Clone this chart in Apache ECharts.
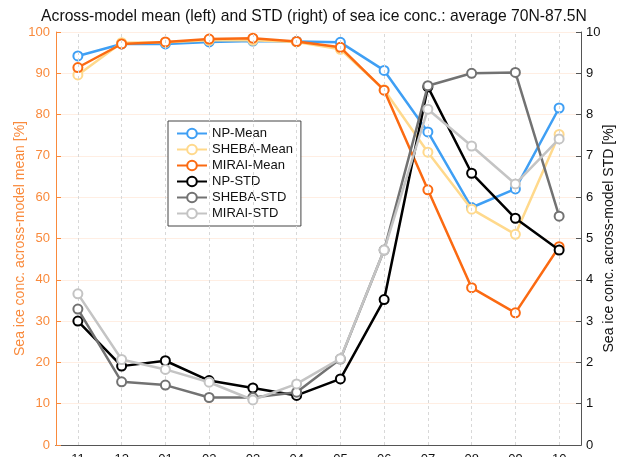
<!DOCTYPE html>
<html><head><meta charset="utf-8">
<script src="https://cdn.jsdelivr.net/npm/echarts@6/dist/echarts.min.js"></script>
<style>html,body{margin:0;padding:0;background:#fff}#c{width:628px;height:457px}</style>
</head><body><div id="c"></div>
<script>
const months = ['11','12','01','02','03','04','05','06','07','08','09','10'];
const npMean    = [94.2, 97.1, 97.1, 97.6, 97.8, 97.7, 97.5, 90.7, 75.8, 57.5, 62.0, 81.6];
const shebaMean = [89.6, 97.4, 97.5, 98.0, 98.0, 97.6, 95.8, 86.0, 70.9, 57.1, 51.0, 75.2];
const miraiMean = [91.4, 97.1, 97.6, 98.3, 98.5, 97.7, 96.3, 85.9, 61.8, 38.1, 32.0, 48.0];
const npStd     = [3.00, 1.91, 2.04, 1.56, 1.38, 1.20, 1.60, 3.52, 8.67, 6.58, 5.49, 4.72];
const shebaStd  = [3.29, 1.53, 1.45, 1.15, 1.15, 1.28, 2.08, 4.72, 8.70, 9.00, 9.02, 5.54];
const miraiStd  = [3.66, 2.07, 1.83, 1.52, 1.09, 1.48, 2.09, 4.72, 8.13, 7.24, 6.32, 7.41];
const leftTicks = {min: 0, max: 100, interval: 10};
const rightTicks = {min: 0, max: 10, interval: 1};

const ORANGE = '#f98a3c';
const FONT = 'Liberation Sans, Arial, sans-serif';
const chart = echarts.init(document.getElementById('c'), null, {renderer: 'canvas'});
function ser(name, data, color, yIdx, z) {
  return {
    name, type: 'line', data, yAxisIndex: yIdx, z,
    symbol: 'emptyCircle', symbolSize: 9,
    lineStyle: {color, width: 2.5},
    itemStyle: {color, borderColor: color, borderWidth: 2.2},
    emphasis: {disabled: true}, animation: false
  };
}
const option = {
  animation: false,
  textStyle: {fontFamily: FONT},
  title: {
    text: 'Across-model mean (left) and STD (right) of sea ice conc.: average 70N-87.5N',
    left: 'center', top: 4,
    textStyle: {fontFamily: FONT, fontSize: 15.7, fontWeight: 'normal', color: '#111'}
  },
  grid: {left: 56, right: 47, top: 32, bottom: 12, containLabel: false, outerBoundsMode: 'none'},
  legend: {
    orient: 'vertical', left: 168, top: 121,
    backgroundColor: '#fff', borderColor: '#444', borderWidth: 1,
    padding: [6, 8, 6, 8], itemGap: 3, itemWidth: 30, itemHeight: 12,
    textStyle: {fontFamily: FONT, fontSize: 13, color: '#111'},
    data: ['NP-Mean','SHEBA-Mean','MIRAI-Mean','NP-STD','SHEBA-STD','MIRAI-STD']
  },
  xAxis: [{
    type: 'category', data: months, boundaryGap: true, position: 'bottom',
    axisLine: {lineStyle: {color: '#555', width: 1}},
    axisTick: {inside: true, alignWithLabel: true, length: 5, lineStyle: {color: '#555'}},
    axisLabel: {color: '#111', fontSize: 13, margin: 8, fontFamily: FONT},
    splitLine: {show: false}
  }, {
    type: 'category', data: months, boundaryGap: true, position: 'top',
    axisLine: {lineStyle: {color: '#555', width: 1}},
    axisTick: {inside: true, alignWithLabel: true, length: 5, lineStyle: {color: '#555'}},
    axisLabel: {show: false}, splitLine: {show: false}
  }],
  yAxis: [{
    type: 'value', position: 'left', ...leftTicks,
    name: 'Sea ice conc. across-model mean [%]', nameLocation: 'middle', nameGap: 29,
    nameMoveOverlap: false,
    nameTextStyle: {color: ORANGE, fontSize: 14, fontFamily: FONT},
    axisLine: {show: true, lineStyle: {color: ORANGE, width: 1}},
    axisTick: {show: true, inside: true, length: 5, lineStyle: {color: ORANGE}},
    axisLabel: {color: ORANGE, fontSize: 13, margin: 6, fontFamily: FONT},
    splitLine: {show: true, lineStyle: {color: 'rgba(255,140,70,0.15)', width: 1}}
  }, {
    type: 'value', position: 'right', ...rightTicks,
    name: 'Sea ice conc. across-model STD [%]', nameLocation: 'middle', nameGap: 21,
    nameMoveOverlap: false,
    nameTextStyle: {color: '#111', fontSize: 14, fontFamily: FONT},
    axisLine: {show: true, lineStyle: {color: '#555', width: 1}},
    axisTick: {show: true, inside: true, length: 5, lineStyle: {color: '#555'}},
    axisLabel: {color: '#111', fontSize: 13, margin: 5, fontFamily: FONT},
    splitLine: {show: false}
  }],
  series: [
    {
      type: 'line', data: [], z: 1, silent: true,
      markLine: {
        silent: true, symbol: 'none', label: {show: false}, animation: false,
        lineStyle: {color: '#d8d8d8', type: [3, 3], width: 1},
        data: months.map(m => ({xAxis: m}))
      }
    },
    ser('NP-Mean', npMean, '#3f9ff4', 0, 2),
    ser('SHEBA-Mean', shebaMean, '#ffd98c', 0, 3),
    ser('MIRAI-Mean', miraiMean, '#fb6a12', 0, 4),
    ser('NP-STD', npStd, '#000000', 1, 5),
    ser('SHEBA-STD', shebaStd, '#727272', 1, 6),
    ser('MIRAI-STD', miraiStd, '#c4c4c4', 1, 7)
  ]
};
chart.setOption(option);
</script></body></html>
